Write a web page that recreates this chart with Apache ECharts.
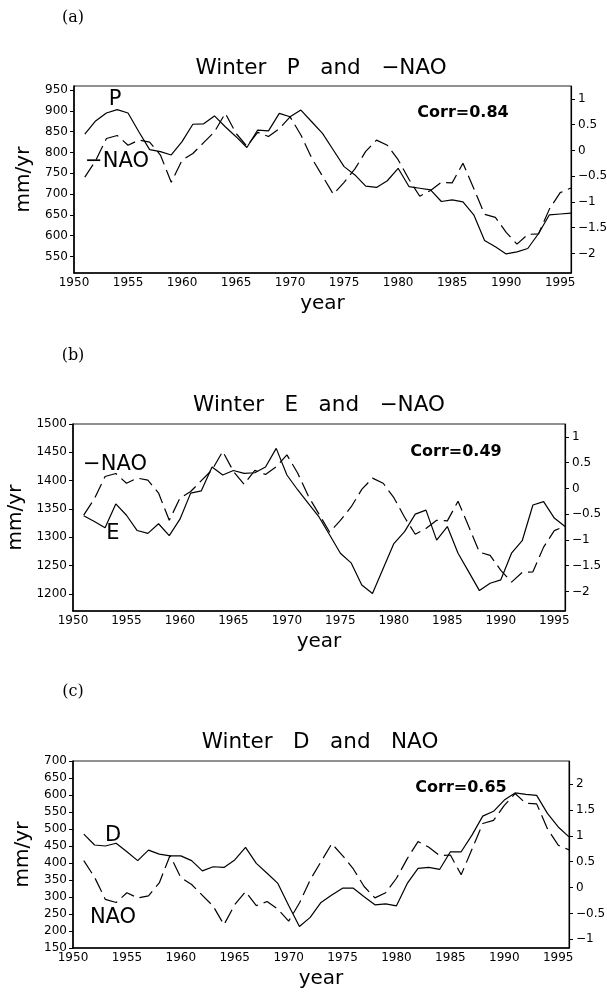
<!DOCTYPE html>
<html>
<head>
<meta charset="utf-8">
<title>Winter P, E, D and NAO</title>
<script src="https://cdn.jsdelivr.net/npm/echarts@6/dist/echarts.min.js"></script>
<style>
    html, body { margin: 0; padding: 0; background: #fff; }
    #chart { width: 607px; height: 993px; }
</style>
</head>
<body>
<div id="chart"></div>
<script>
    //  data, one value per winter 1951-1996
    const years = [1951, 1952, 1953, 1954, 1955, 1956, 1957, 1958, 1959, 1960,
        1961, 1962, 1963, 1964, 1965, 1966, 1967, 1968, 1969, 1970,
        1971, 1972, 1973, 1974, 1975, 1976, 1977, 1978, 1979, 1980,
        1981, 1982, 1983, 1984, 1985, 1986, 1987, 1988, 1989, 1990,
        1991, 1992, 1993, 1994, 1995, 1996]

    const winterP = [844, 876, 895, 903, 895, 850, 807, 802, 794, 826,
        868, 869, 888, 862, 838, 812, 854, 852, 894, 886,
        902, 874, 846, 806, 766, 746, 719, 716, 732, 762,
        718, 714, 710, 682, 686, 681, 650, 588, 573, 556,
        561, 569, 605, 650, 652, 654]

    const winterE = [1338, 1328, 1317, 1359, 1339, 1312, 1307, 1324, 1303, 1332,
        1378, 1382, 1424, 1410, 1418, 1413, 1414, 1424, 1457, 1410,
        1384, 1360, 1336, 1304, 1272, 1255, 1216, 1201, 1245, 1289,
        1310, 1341, 1348, 1295, 1319, 1272, 1239, 1206, 1219, 1225,
        1272, 1294, 1357, 1363, 1334, 1319]

    const winterD = [485, 453, 450, 458, 433, 407, 438, 426, 421, 421,
        407, 377, 389, 387, 409, 446, 399, 370, 340, 275,
        213, 240, 284, 306, 326, 326, 301, 277, 280, 274,
        340, 384, 387, 381, 433, 433, 482, 538, 552, 585,
        606, 602, 599, 546, 506, 477]

    const winterNao = [0.52, 0.2, -0.23, -0.29, -0.1, -0.2, -0.16, 0.09, 0.62, 0.19,
        0.06, -0.15, -0.36, -0.72, -0.33, -0.08, -0.35, -0.27, -0.42, -0.65,
        -0.3, 0.15, 0.5, 0.85, 0.62, 0.36, 0.02, -0.2, -0.1, 0.18,
        0.56, 0.89, 0.78, 0.62, 0.63, 0.25, 0.74, 1.24, 1.3, 1.59,
        1.82, 1.63, 1.62, 1.14, 0.82, 0.73]

    //  tick labels
    const yearTicks = [1950, 1955, 1960, 1965, 1970, 1975, 1980, 1985, 1990, 1995]
    const pTicks = [550, 600, 650, 700, 750, 800, 850, 900, 950]
    const eTicks = [1200, 1250, 1300, 1350, 1400, 1450, 1500]
    const dTicks = [150, 200, 250, 300, 350, 400, 450, 500, 550, 600, 650, 700]
    const naoTicksAB = [-2, -1.5, -1, -0.5, 0, 0.5, 1]
    const naoTicksC = [-1, -0.5, 0, 0.5, 1, 1.5, 2]

    //  panels (a) and (b) show -NAO
    const minusNao = winterNao.map(v => -v)

    const panels = [
        {
            grid: { left: 74, right: 36, top: 86, height: 187 },
            leftAxis: { min: 510, max: 960, ticks: pTicks },
            rightAxis: { min: -2.38, max: 1.25, ticks: naoTicksAB },
            solid: winterP,
            dashed: minusNao
        },
        {
            grid: { left: 73, right: 42, top: 424, height: 187 },
            leftAxis: { min: 1170, max: 1500, ticks: eTicks },
            rightAxis: { min: -2.38, max: 1.25, ticks: naoTicksAB },
            solid: winterE,
            dashed: minusNao
        },
        {
            grid: { left: 73, right: 38, top: 761, height: 187 },
            leftAxis: { min: 150, max: 700, ticks: dTicks },
            rightAxis: { min: -1.17, max: 2.45, ticks: naoTicksC },
            solid: winterD,
            dashed: winterNao
        }
    ]

    const labelFont = { fontFamily: 'DejaVu Sans', fontSize: 12, color: '#000' }
    const nameFont = { fontFamily: 'DejaVu Sans', fontSize: 20, color: '#000' }
    const plain = v => String(v)
    const minus = v => String(v).replace('-', '\u2212')

    const grid = []
    const xAxis = []
    const yAxis = []
    const series = []

    panels.forEach(function(p, i) {
        grid.push(Object.assign({
            show: true,
            borderColor: '#222',
            borderWidth: 1,
            containLabel: false,
            outerBoundsMode: 'none'
        }, p.grid))

        xAxis.push({
            type: 'value',
            gridIndex: i,
            min: 1950,
            max: 1996,
            name: 'year',
            nameLocation: 'middle',
            nameGap: 21,
            nameTextStyle: nameFont,
            axisLine: { onZero: false, lineStyle: { color: '#000', width: 1.6 } },
            axisTick: { show: false },
            splitLine: { show: false },
            axisLabel: Object.assign({ customValues: yearTicks, margin: 4, formatter: plain }, labelFont)
        })

        yAxis.push({
            type: 'value',
            gridIndex: i,
            position: 'left',
            min: p.leftAxis.min,
            max: p.leftAxis.max,
            name: 'mm/yr',
            nameLocation: 'middle',
            nameGap: 40,
            nameTextStyle: nameFont,
            axisLine: { show: true, onZero: false, lineStyle: { color: '#000', width: 1.6 } },
            axisTick: { show: true, length: 4, customValues: p.leftAxis.ticks, lineStyle: { color: '#000' } },
            splitLine: { show: false },
            axisLabel: Object.assign({ customValues: p.leftAxis.ticks, margin: 6, formatter: plain }, labelFont)
        })

        yAxis.push({
            type: 'value',
            gridIndex: i,
            position: 'right',
            min: p.rightAxis.min,
            max: p.rightAxis.max,
            axisLine: { show: true, onZero: false, lineStyle: { color: '#000', width: 1.2 } },
            axisTick: { show: true, length: 4, customValues: p.rightAxis.ticks, lineStyle: { color: '#000' } },
            splitLine: { show: false },
            axisLabel: Object.assign({ customValues: p.rightAxis.ticks, margin: 7, formatter: minus }, labelFont)
        })

        series.push({
            type: 'line',
            xAxisIndex: i,
            yAxisIndex: i * 2,
            data: years.map((y, k) => [y, p.solid[k]]),
            symbol: 'none',
            silent: true,
            lineStyle: { color: '#000', width: 1.2 }
        })

        series.push({
            type: 'line',
            xAxisIndex: i,
            yAxisIndex: i * 2 + 1,
            data: years.map((y, k) => [y, p.dashed[k]]),
            symbol: 'none',
            silent: true,
            lineStyle: { color: '#000', width: 1.2, type: [15, 6] }
        })
    })

    //  titles, panel letters and in-plot annotations
    function text(str, x, y, size, opts) {
        return {
            type: 'text',
            x: x,
            y: y,
            silent: true,
            style: Object.assign({
                text: str,
                fill: '#000',
                fontFamily: 'DejaVu Sans',
                fontSize: size,
                align: 'center',
                verticalAlign: 'middle',
                textAlign: 'center',
                textVerticalAlign: 'middle'
            }, opts || {})
        }
    }
    const serif = { fontFamily: 'DejaVu Serif' }
    const bold = { fontWeight: 'bold' }

    const graphic = [
        text('(a)', 73, 18, 16, serif),
        text('(b)', 73, 356, 16, serif),
        text('(c)', 73, 692, 16, serif),
        text('Winter   P   and   \u2212NAO', 321, 68, 21.5),
        text('Winter   E   and   \u2212NAO', 319, 405, 21.5),
        text('Winter   D   and   NAO', 320, 742, 21.5),
        text('P', 115, 100, 21),
        text('\u2212NAO', 117, 162, 21),
        text('Corr=0.84', 463, 113, 16, bold),
        text('\u2212NAO', 115, 465, 21),
        text('E', 113, 534, 21),
        text('Corr=0.49', 456, 452, 16, bold),
        text('D', 113, 836, 21),
        text('NAO', 113, 918, 21),
        text('Corr=0.65', 461, 788, 16, bold)
    ]

    const option = {
        backgroundColor: '#fff',
        animation: false,
        grid: grid,
        xAxis: xAxis,
        yAxis: yAxis,
        series: series,
        graphic: graphic
    }

    const myChart = echarts.init(document.getElementById('chart'))
    window.addEventListener('resize', () => {
        myChart.resize()
    })
    option && myChart.setOption(option)
</script>
</body>
</html>
